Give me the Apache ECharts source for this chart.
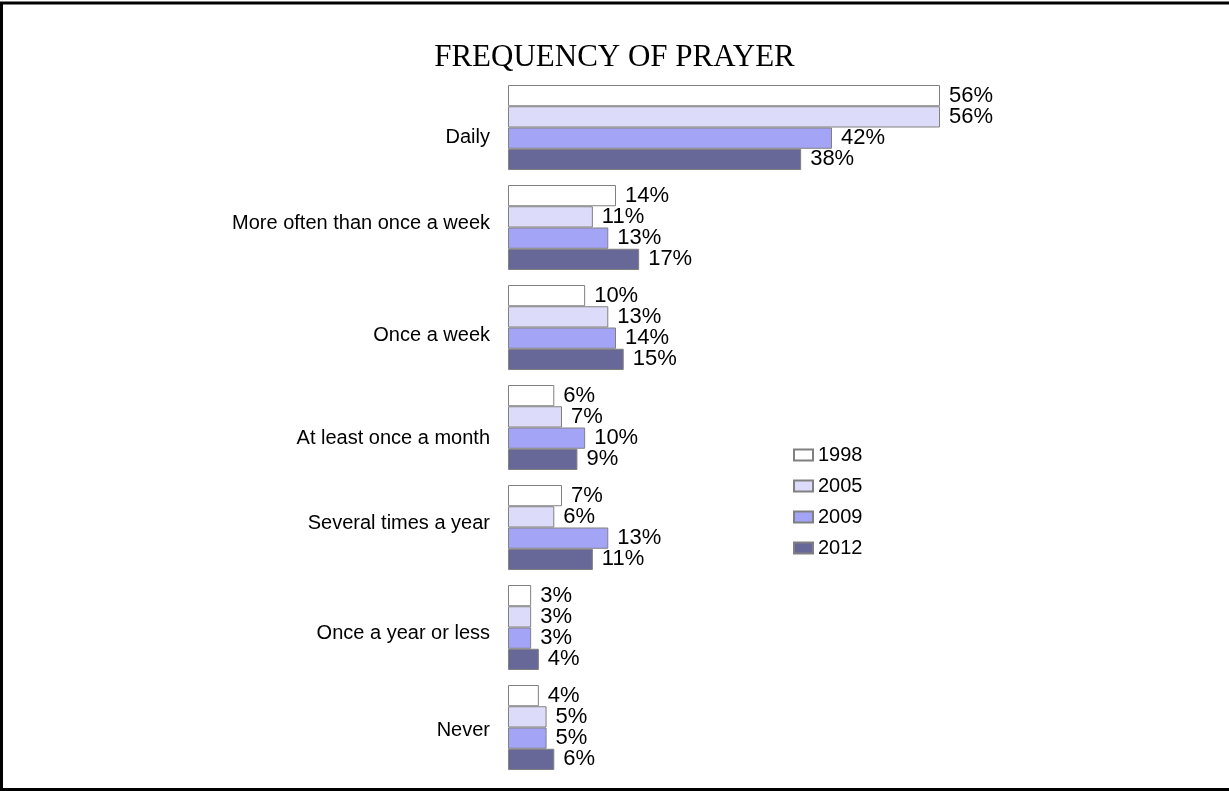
<!DOCTYPE html>
<html>
<head>
<meta charset="utf-8">
<script src="https://cdn.jsdelivr.net/npm/echarts@6/dist/echarts.min.js"></script>
<style>
html,body{margin:0;padding:0;background:#fff;}
#chart{width:1229px;height:791px;}
</style>
</head>
<body>
<div id="chart"></div>
<script>
const categories = ["Daily","More often than once a week","Once a week","At least once a month","Several times a year","Once a year or less","Never"];
const years = ["1998","2005","2009","2012"];
const v1998 = [56,14,10,6,7,3,4];
const v2005 = [56,11,13,7,6,3,5];
const v2009 = [42,13,14,10,13,3,5];
const v2012 = [38,17,15,9,11,4,6];
const colors = ["#ffffff","#dcdcfa","#a4a4f6","#676798"];
// small vertical nudges of category labels (px, + = down)
const labelShift = [10,-4,8,11,-4,6,3];

const rich = {};
labelShift.forEach((s,i)=>{
  rich['c'+i] = {fontFamily:'Liberation Sans',fontSize:20,color:'#000',
    padding: s>=0 ? [s*2,0,0,0] : [0,0,-s*2,0]};
});

const seriesData = [v1998, v2005, v2009, v2012];
const chart = echarts.init(document.getElementById('chart'));
chart.setOption({
  animation:false,
  backgroundColor:'#fff',
  title:{text:'FREQUENCY OF PRAYER',left:'center',top:37,
    textStyle:{fontFamily:'Liberation Serif',fontWeight:'normal',fontSize:31,color:'#000'}},
  legend:{orient:'vertical',left:788,top:440,itemWidth:19,itemHeight:11,itemGap:11,
    icon:'rect',
    textStyle:{fontFamily:'Liberation Sans',fontSize:20,color:'#000'},
    data:years},
  grid:{left:508,top:77.5,right:26.7,height:700},
  xAxis:{type:'value',min:0,max:90,show:false},
  yAxis:{type:'category',inverse:true,data:categories,
    axisLine:{show:false},axisTick:{show:false},
    axisLabel:{fontFamily:'Liberation Sans',fontSize:20,color:'#000',margin:18,
      formatter:(v,i)=>'{c'+i+'|'+v+'}',rich:rich}},
  series: years.map((y,i)=>({
    name:y,type:'bar',data:seriesData[i],
    barGap:'0%',barCategoryGap:'15%',
    itemStyle:{color:colors[i],borderColor:'#808080',borderWidth:1},
    label:{show:true,position:'right',distance:9,formatter:'{c}%',
      fontFamily:'Liberation Sans',fontSize:22,color:'#000'}
  })),
  graphic:[{type:'polyline',shape:{points:[[1229,3],[1.5,3],[1.5,789.5],[1229,789.5]]},
    style:{fill:'none',stroke:'#000',lineWidth:3},silent:true}]
});
</script>
</body>
</html>
